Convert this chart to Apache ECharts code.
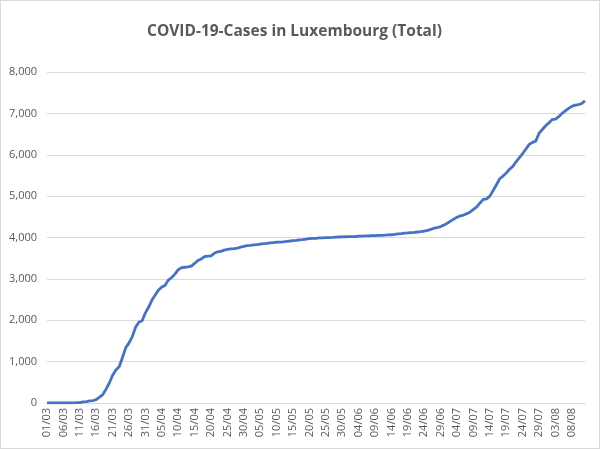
<!DOCTYPE html>
<html>
<head>
<meta charset="utf-8">
<script src="https://cdn.jsdelivr.net/npm/echarts@6/dist/echarts.min.js"></script>
<style>
  html, body { margin: 0; padding: 0; background: #fff; }
  #chart { width: 600px; height: 449px; box-sizing: border-box; border: 1px solid #d9d9d9; }
</style>
</head>
<body>
<div id="chart"></div>
<script>
// daily totals, 01/03 .. 12/08
const marchCases = [1, 1, 1, 2, 2, 3, 4, 5, 5, 7, 7, 26, 34, 51, 59, 81, 140, 203, 335, 484,
  670, 798, 875, 1099, 1333, 1453, 1605, 1831, 1950, 1988, 2178];
const aprilCases = [2319, 2487, 2612, 2729, 2804, 2843, 2970, 3034, 3115, 3223, 3270, 3281,
  3292, 3307, 3373, 3444, 3480, 3537, 3550, 3558, 3618, 3654, 3665, 3695, 3711, 3723, 3729,
  3741, 3769, 3784];
const mayCases = [3802, 3812, 3824, 3828, 3840, 3851, 3859, 3871, 3877, 3886, 3888, 3894,
  3904, 3915, 3923, 3930, 3945, 3947, 3958, 3971, 3980, 3981, 3990, 3993, 3995, 3997, 4001,
  4008, 4012, 4016, 4018];
const juneCases = [4019, 4020, 4024, 4032, 4035, 4040, 4040, 4043, 4046, 4049, 4052, 4055,
  4065, 4066, 4075, 4085, 4094, 4104, 4110, 4120, 4123, 4133, 4140, 4156, 4170, 4198, 4224,
  4241, 4264, 4299];
const julyCases = [4345, 4395, 4444, 4491, 4522, 4542, 4577, 4617, 4680, 4742, 4836, 4919,
  4935, 5000, 5136, 5276, 5420, 5484, 5560, 5650, 5720, 5830, 5930, 6030, 6140, 6250, 6300,
  6330, 6520, 6610, 6700];
const augustCases = [6770, 6850, 6860, 6920, 7000, 7060, 7120, 7170, 7200, 7210, 7240, 7300];

const months = [["03", 31], ["04", 30], ["05", 31], ["06", 30], ["07", 31], ["08", 12]];
const dates = [];
months.forEach(([m, n]) => {
  for (let d = 1; d <= n; d++) dates.push(String(d).padStart(2, "0") + "/" + m);
});
const totals = [].concat(marchCases, aprilCases, mayCases, juneCases, julyCases, augustCases);

const textColor = "#595959";
const gridColor = "#d9d9d9";

echarts.init(document.getElementById("chart")).setOption({
  animation: false,
  title: {
    text: "COVID-19-Cases in Luxembourg (Total)",
    left: 141,
    top: 18,
    textStyle: {
      fontFamily: "Open Sans",
      fontSize: 15.5,
      fontWeight: "bold",
      color: textColor,
    },
  },
  grid: {
    left: 46,
    right: 14,
    top: 71,
    bottom: 45,
  },
  xAxis: {
    type: "category",
    data: dates,
    boundaryGap: false,
    axisLine: { lineStyle: { color: gridColor } },
    axisTick: { show: false },
    axisLabel: {
      interval: 4,
      rotate: 90,
      color: textColor,
      fontFamily: "Open Sans",
      fontSize: 11,
      margin: 5,
    },
  },
  yAxis: {
    type: "value",
    min: 0,
    max: 8000,
    interval: 1000,
    axisLine: { show: false },
    axisTick: { show: false },
    splitLine: { lineStyle: { color: gridColor } },
    axisLabel: {
      color: textColor,
      fontFamily: "Open Sans",
      fontSize: 11,
      margin: 10,
      formatter: (v) => v.toLocaleString("en-US"),
    },
  },
  series: [
    {
      name: "Total",
      type: "line",
      data: totals,
      showSymbol: false,
      lineStyle: { color: "#4472c4", width: 2.8 },
    },
  ],
});
</script>
</body>
</html>
